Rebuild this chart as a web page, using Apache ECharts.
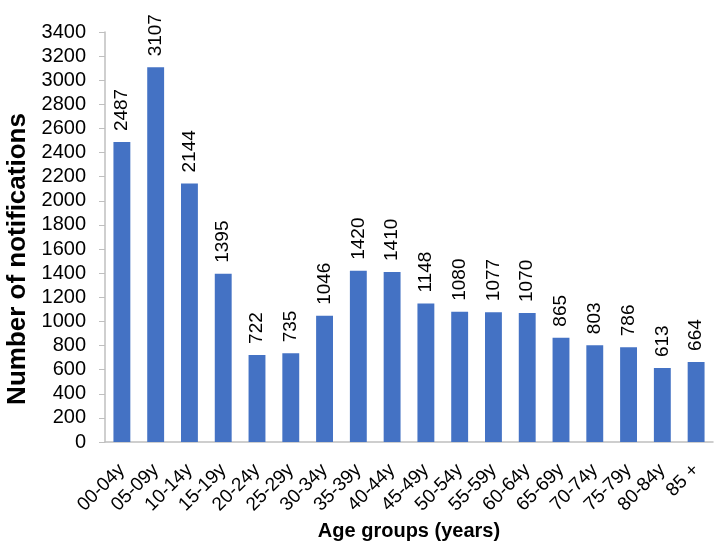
<!DOCTYPE html>
<html>
<head>
<meta charset="utf-8">
<script src="https://cdn.jsdelivr.net/npm/echarts@6/dist/echarts.min.js"></script>
<style>
  html, body { margin: 0; padding: 0; background: #fff; }
  #chart { width: 720px; height: 541px; }
</style>
</head>
<body>
<div id="chart"></div>
<script>
// age groups and notification counts
var ageGroups = ['00-04y', '05-09y', '10-14y', '15-19y', '20-24y', '25-29y', '30-34y', '35-39y',
    '40-44y', '45-49y', '50-54y', '55-59y', '60-64y', '65-69y', '70-74y', '75-79y', '80-84y', '85 +'];
var notifications = [2487, 3107, 2144, 1395, 722, 735, 1046, 1420, 1410, 1148, 1080, 1077, 1070, 865, 803, 786, 613, 664];

var myChart = echarts.init(document.getElementById('chart'));

var font = 'Liberation Sans, Arial, sans-serif';

var option = {
    animation: false,
    grid: { left: 105, right: 7, top: 32, bottom: 99, containLabel: false, outerBoundsMode: 'none' },
    xAxis: {
        type: 'category',
        data: ageGroups,
        name: 'Age groups (years)',
        nameLocation: 'middle',
        nameGap: 74,
        nameTextStyle: { fontFamily: font, fontSize: 20, fontWeight: 'bold', color: '#000' },
        axisLine: { lineStyle: { color: '#bfbfbf', width: 1.5 } },
        axisTick: { show: false },
        axisLabel: { rotate: 45, interval: 0, fontFamily: font, fontSize: 19, color: '#000', margin: 25 }
    },
    yAxis: {
        type: 'value',
        min: 0,
        max: 3400,
        interval: 200,
        name: 'Number of notifications',
        nameLocation: 'middle',
        nameGap: 65,
        nameTextStyle: { fontFamily: font, fontSize: 26, fontWeight: 'bold', color: '#000', padding: [0, 44, 0, 0] },
        axisLine: { show: true, lineStyle: { color: '#bfbfbf', width: 1.5 } },
        axisTick: { show: true, length: 6, lineStyle: { color: '#bfbfbf' } },
        splitLine: { show: false },
        axisLabel: {
            fontFamily: font, fontSize: 20, color: '#000', margin: 19,
            formatter: function (v) { return String(v); }
        }
    },
    series: [{
        type: 'bar',
        data: notifications,
        barWidth: '50%',
        itemStyle: { color: '#4472c4' },
        label: {
            show: true,
            position: 'top',
            rotate: 90,
            align: 'left',
            verticalAlign: 'middle',
            distance: 11,
            fontFamily: font,
            fontSize: 19,
            color: '#000'
        }
    }]
};

myChart.setOption(option);
</script>
</body>
</html>
